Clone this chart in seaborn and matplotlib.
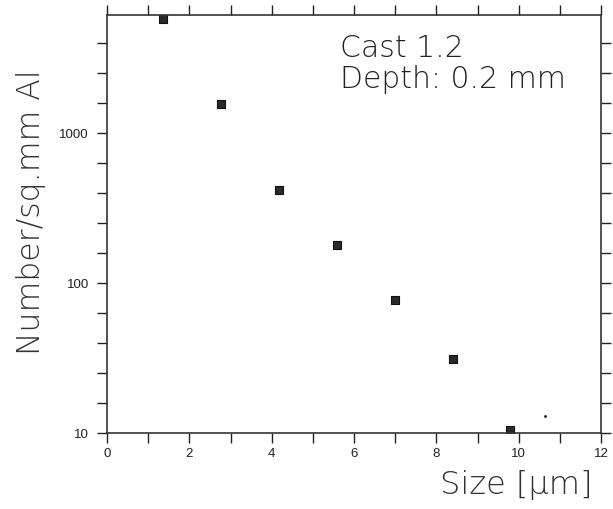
import numpy as np
import pandas as pd
import matplotlib
matplotlib.use("Agg")
import matplotlib.pyplot as plt
import matplotlib.ticker as mticker
import seaborn as sns

# ---- data ----
size_um = [1.36, 2.76, 4.17, 5.58, 6.99, 8.40, 9.80]
number_per_sqmm = [5750, 1560, 415, 178, 77, 31, 10.4]
extra_size = [10.63]
extra_number = [13.0]
x_tick_values = [0, 2, 4, 6, 8, 10, 12]
y_tick_values = [10, 100, 1000]
y_tick_labels = ["10", "100", "1000"]
title_lines = ["Cast 1.2", "Depth: 0.2 mm"]

sns.set_style("ticks")
plt.rcParams["font.family"] = ["Liberation Sans", "DejaVu Sans"]

fig = plt.figure(figsize=(6.13, 5.09), dpi=100)
ax = fig.add_axes([107/613, 1 - 433/509, (601 - 107)/613, (433 - 15)/509])

df = pd.DataFrame({"size": size_um, "number": number_per_sqmm})
sns.scatterplot(data=df, x="size", y="number", ax=ax, marker="s", s=34,
                color="#2a2a2a", edgecolor="#111111", linewidth=0.8, legend=False)
df2 = pd.DataFrame({"size": extra_size, "number": extra_number})
sns.scatterplot(data=df2, x="size", y="number", ax=ax, marker="o", s=4,
                color="#111111", edgecolor="#111111", linewidth=0, legend=False)

ax.set_yscale("log")
ax.set_xlim(0, 12)
ax.set_ylim(10, 10 ** 3.787)

# x ticks
ax.set_xticks(x_tick_values)
ax.set_xticks(range(0, 13), minor=True)
ax.tick_params(axis="x", which="both", direction="out", length=7, width=1.0,
               top=True, bottom=True, labelsize=9.5, pad=4, colors="#222222")
# y ticks
ax.yaxis.set_major_locator(mticker.FixedLocator(y_tick_values))
ax.yaxis.set_major_formatter(mticker.FixedFormatter(y_tick_labels))
minor_y = [10 ** (1 + 0.2 * k) for k in range(0, 15)]
ax.yaxis.set_minor_locator(mticker.FixedLocator(minor_y))
ax.yaxis.set_minor_formatter(mticker.NullFormatter())
ax.tick_params(axis="y", which="both", direction="out", length=7, width=1.0,
               left=True, right=True, labelsize=9.5, pad=6, colors="#222222")

for sp in ax.spines.values():
    sp.set_visible(True)
    sp.set_linewidth(1.2)
    sp.set_color("#333333")

ax.set_xlabel("")
ax.set_ylabel("")
fig.text(31/613, 1 - 212/509, "Number/sq.mm Al", rotation=90, ha="center",
         va="center", fontsize=22.7, color="#333333",
         family=["DejaVu Sans"], fontweight="light")
fig.text(593/613, 1 - 485/509, "Size [\u00b5m]", ha="right", va="center",
         fontsize=23, color="#333333",
         family=["DejaVu Sans"], fontweight="light")

ax.text(340/613, 1 - 57/509, title_lines[0], transform=fig.transFigure,
        ha="left", va="baseline", fontsize=21.5, color="#222222",
        family=["DejaVu Sans"], fontweight="light")
ax.text(340/613, 1 - 88/509, title_lines[1], transform=fig.transFigure,
        ha="left", va="baseline", fontsize=21.5, color="#222222",
        family=["DejaVu Sans"], fontweight="light")

fig.savefig("out.png", dpi=100)
